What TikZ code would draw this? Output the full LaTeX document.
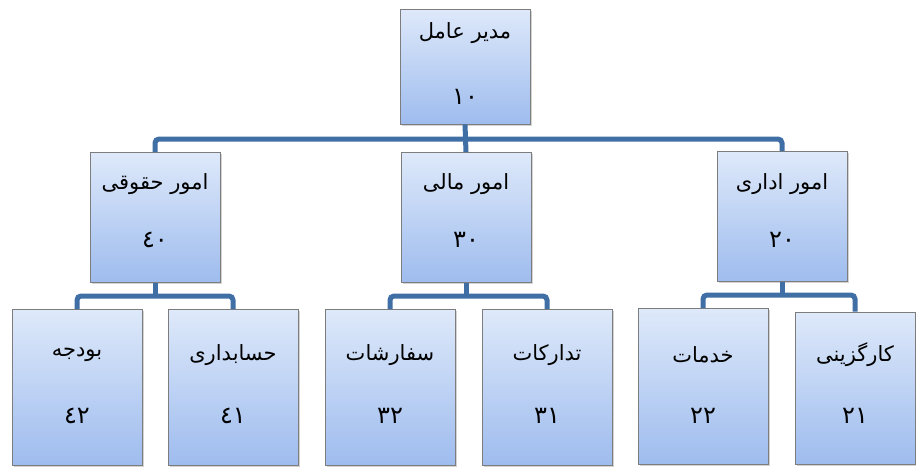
\documentclass[tikz,border=0pt]{standalone}
\usepackage{fontspec}
\newfontfamily\arabicfont[Script=Arabic]{DejaVu Sans}
\TeXXeTstate=1
\usetikzlibrary{shadows}
\definecolor{boxtop}{RGB}{222,233,250}
\definecolor{boxbot}{RGB}{158,188,238}
\definecolor{boxline}{RGB}{125,125,125}
\definecolor{connc}{RGB}{63,111,165}
\begin{document}
\begin{tikzpicture}[x=1pt,y=-1pt,
  box/.style={draw=boxline, line width=0.8pt, top color=boxtop, bottom color=boxbot,
    drop shadow={opacity=0.35, shadow xshift=1.5pt, shadow yshift=-1.5pt},
    inner sep=0pt, minimum width=130pt},
  lvla/.style={box, minimum height=115pt},
  lvlb/.style={box, minimum height=130pt},
  lvlc/.style={box, minimum height=156pt},
  lbl/.style={font=\arabicfont\fontsize{21}{24}\selectfont, inner sep=0pt, text=black},
  num/.style={font=\arabicfont\fontsize{24}{26}\selectfont, inner sep=0pt, text=black},
  conn/.style={draw=connc, line width=5pt, rounded corners=4pt}]
\useasboundingbox (0,0) rectangle (916,469);
% boxes
\node[lvla] (b10) at (465,66.5) {};
\node[lvlb] (b40) at (155,217.5) {};
\node[lvlb] (b30) at (466,217.5) {};
\node[lvlb] (b20) at (782,216.5) {};
\node[lvlc] (b42) at (77,387.5) {};
\node[lvlc] (b41) at (233,387.5) {};
\node[lvlc] (b32) at (390,387.5) {};
\node[lvlc] (b31) at (547,387.5) {};
\node[lvlc] (b22) at (703,386.5) {};
\node[lvlc, minimum width=120pt, minimum height=152pt] (b21) at (855,388) {};
% texts
\node[lbl] (t10) at (465,33) {\beginR مدیر عامل\endR};
\node[num] (n10) at (465,97) {١٠};
\node[lbl] (t40) at (155,184) {\beginR امور حقوقی\endR};
\node[num] (n40) at (155,240) {٤٠};
\node[lbl] (t30) at (466,184) {\beginR امور مالی\endR};
\node[num] (n30) at (466,240) {٣٠};
\node[lbl] (t20) at (782,184) {\beginR امور اداری\endR};
\node[num] (n20) at (782,240) {٢٠};
\node[lbl] (t42) at (77,355) {\beginR بودجه\endR};
\node[num] (n42) at (77,416) {٤٢};
\node[lbl] (t41) at (233,355) {\beginR حسابداری\endR};
\node[num] (n41) at (233,416) {٤١};
\node[lbl] (t32) at (390,355) {\beginR سفارشات\endR};
\node[num] (n32) at (390,416) {٣٢};
\node[lbl] (t31) at (547,355) {\beginR تدارکات\endR};
\node[num] (n31) at (547,416) {٣١};
\node[lbl] (t22) at (703,355) {\beginR خدمات\endR};
\node[num] (n22) at (703,416) {٢٢};
\node[lbl] (t21) at (855,355) {\beginR کارگزینی\endR};
\node[num] (n21) at (855,416) {٢١};
% junctions
\coordinate (j1) at (466,139);
\coordinate (j4) at (155,296);
\coordinate (j3) at (466,296);
\coordinate (j2) at (782,295);
% connectors
\draw[conn] (b10.south) -- (b30.north);
\draw[conn] (b40.north) |- (j1) -| (b20.north);
\draw[conn] (b40.south) -- (b40.south |- j4);
\draw[conn] (b42.north) |- (j4) -| (b41.north);
\draw[conn] (b30.south) -- (b30.south |- j3);
\draw[conn] (b32.north) |- (j3) -| (b31.north);
\draw[conn] (b20.south) -- (b20.south |- j2);
\draw[conn] (b22.north) |- (j2) -| (b21.north);
\end{tikzpicture}
\end{document}
